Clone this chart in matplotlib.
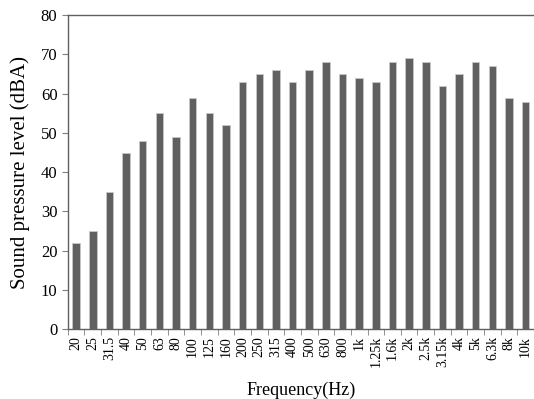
import matplotlib.pyplot as plt
import numpy as np

freqs = ['20', '25', '31.5', '40', '50', '63', '80', '100', '125', '160', '200', '250',
         '315', '400', '500', '630', '800', '1k', '1.25k', '1.6k', '2k', '2.5k', '3.15k',
         '4k', '5k', '6.3k', '8k', '10k']
spl = [22, 25, 35, 45, 48, 55, 49, 59, 55, 52, 63, 65,
       66, 63, 66, 68, 65, 64, 63, 68, 69, 68, 62,
       65, 68, 67, 59, 58]

plt.rcParams['font.family'] = 'Liberation Serif'

fig = plt.figure(figsize=(5.34, 3.99), dpi=100)
ax = fig.add_axes([0.127, 0.175, 0.873, 0.787])

x = np.arange(len(freqs))
ax.bar(x, spl, width=0.45, color='#606060', edgecolor='#c8c8c8', linewidth=0.6)

ax.set_xlim(-0.5, len(freqs) - 0.5)
ax.set_ylim(0, 80)
ax.set_yticks(range(0, 81, 10))
ax.set_xticks(x)
ax.set_xticklabels(freqs, rotation=90, fontsize=10)
ax.set_xticks(np.arange(-0.5, len(freqs), 1), minor=True)
ax.tick_params(axis='x', which='major', length=0, pad=5)
ax.tick_params(axis='x', which='minor', length=4, color='#808080')
ax.tick_params(axis='y', labelsize=12, length=4, color='#808080')

for s in ['top', 'left', 'bottom']:
    ax.spines[s].set_color('#606060')
    ax.spines[s].set_linewidth(1.0)
ax.spines['right'].set_visible(False)

ax.set_ylabel('Sound pressure level (dBA)', fontsize=15, labelpad=8)
ax.set_xlabel('Frequency(Hz)', fontsize=13, labelpad=10)

fig.savefig('out.png', dpi=100)
